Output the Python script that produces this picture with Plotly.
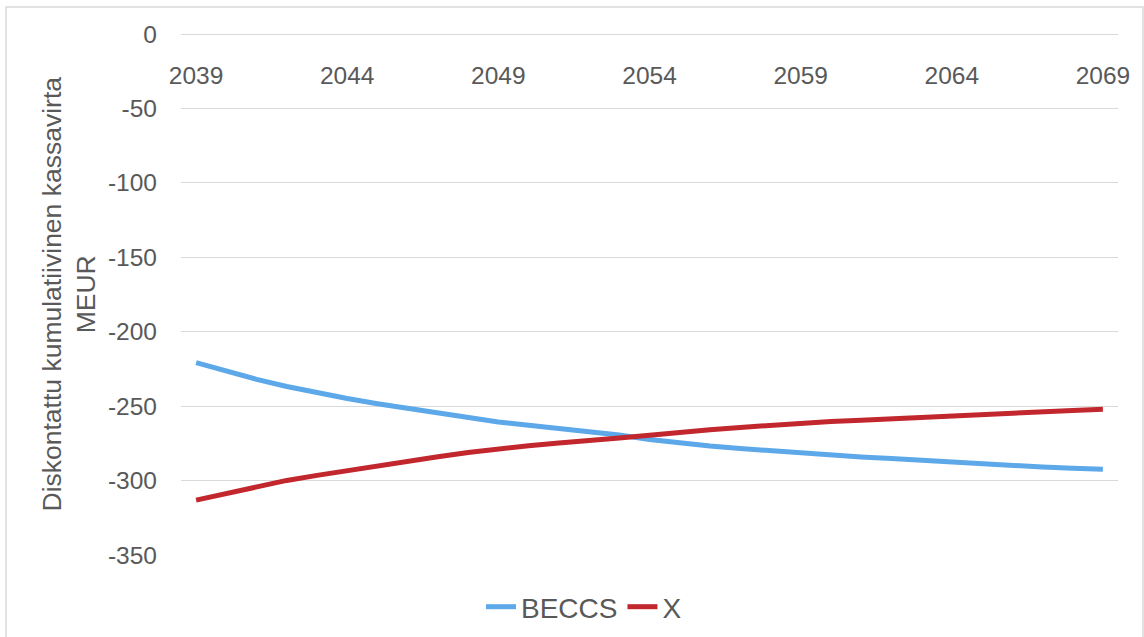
import plotly.graph_objects as go

# Years on the category axis
years = list(range(2039, 2070))

# Discounted cumulative cash flow, MEUR
beccs = [-220.8, -226.5, -232.0, -236.8, -241.2, -244.9, -248.4, -251.6, -254.6, -257.6,
         -260.6, -262.8, -264.9, -267.0, -269.4, -272.4, -274.8, -276.8, -278.5, -280.1,
         -281.7, -283.0, -284.2, -285.2, -286.5, -287.2, -288.5, -290.2, -290.9, -291.7,
         -292.4]
x_case = [-313.1, -308.7, -304.3, -299.9, -296.5, -293.2, -289.9, -286.5, -284.0, -281.1,
          -278.7, -276.6, -274.8, -272.7, -271.4, -269.6, -267.4, -265.8, -264.3, -262.7,
          -261.3, -260.3, -259.5, -258.5, -257.6, -256.2, -255.4, -254.6, -253.8, -252.9,
          -252.1]

year_ticks = [2039, 2044, 2049, 2054, 2059, 2064, 2069]
y_ticks = [0, -50, -100, -150, -200, -250, -300, -350]
y_labels = [str(v) for v in y_ticks]  # plain hyphen-minus labels

FONT = "Liberation Sans, Arial, sans-serif"
TEXT = "#595959"
GRID = "#d9d9d9"

W, H = 1144, 637
L, R, T, B = 181, 26, 34, 82
pw, ph = W - L - R, H - T - B

fig = go.Figure()
fig.add_trace(go.Scatter(x=years, y=beccs, mode="lines", name="BECCS",
                         line=dict(color="#5ca8e9", width=5)))
fig.add_trace(go.Scatter(x=years, y=x_case, mode="lines", name="X",
                         line=dict(color="#c1272d", width=5)))

fig.update_layout(
    width=W, height=H,
    margin=dict(l=L, r=R, t=T, b=B, autoexpand=False),
    paper_bgcolor="white", plot_bgcolor="white",
    font=dict(family=FONT, color=TEXT, size=24),
    showlegend=True,
    legend=dict(orientation="h", x=(584 - L) / pw, xanchor="center",
                y=(T + ph - 607) / ph, yanchor="middle",
                font=dict(size=28, color=TEXT), itemwidth=30, tracegroupgap=0),
    xaxis=dict(range=[2038.5, 2069.5], tickvals=year_ticks,
               showgrid=False, showline=False, zeroline=False,
               anchor="free", position=1, side="bottom",
               ticks="", ticklabelstandoff=24,
               tickfont=dict(size=24.5, color=TEXT)),
    yaxis=dict(range=[-350, 0], tickvals=y_ticks, ticktext=y_labels,
               showgrid=True, gridcolor=GRID, gridwidth=1, zeroline=True,
               zerolinecolor=GRID, zerolinewidth=1, showline=False,
               ticks="", ticklabelstandoff=23,
               tickfont=dict(size=24.5, color=TEXT)),
    shapes=[dict(type="rect", xref="paper", yref="paper",
                 x0=(6 - L) / pw, x1=(1143 - L) / pw,
                 y0=(T + ph - 645) / ph, y1=(T + ph - 7) / ph,
                 line=dict(color=GRID, width=1.5), fillcolor="rgba(0,0,0,0)",
                 layer="below")],
    annotations=[dict(text="Diskontattu kumulatiivinen kassavirta<br>MEUR",
                      xref="paper", yref="paper", x=(68 - L) / pw, y=0.5,
                      xanchor="center", yanchor="middle", textangle=-90,
                      showarrow=False, font=dict(size=26.5, color=TEXT))],
)

fig.write_html("out.html")
